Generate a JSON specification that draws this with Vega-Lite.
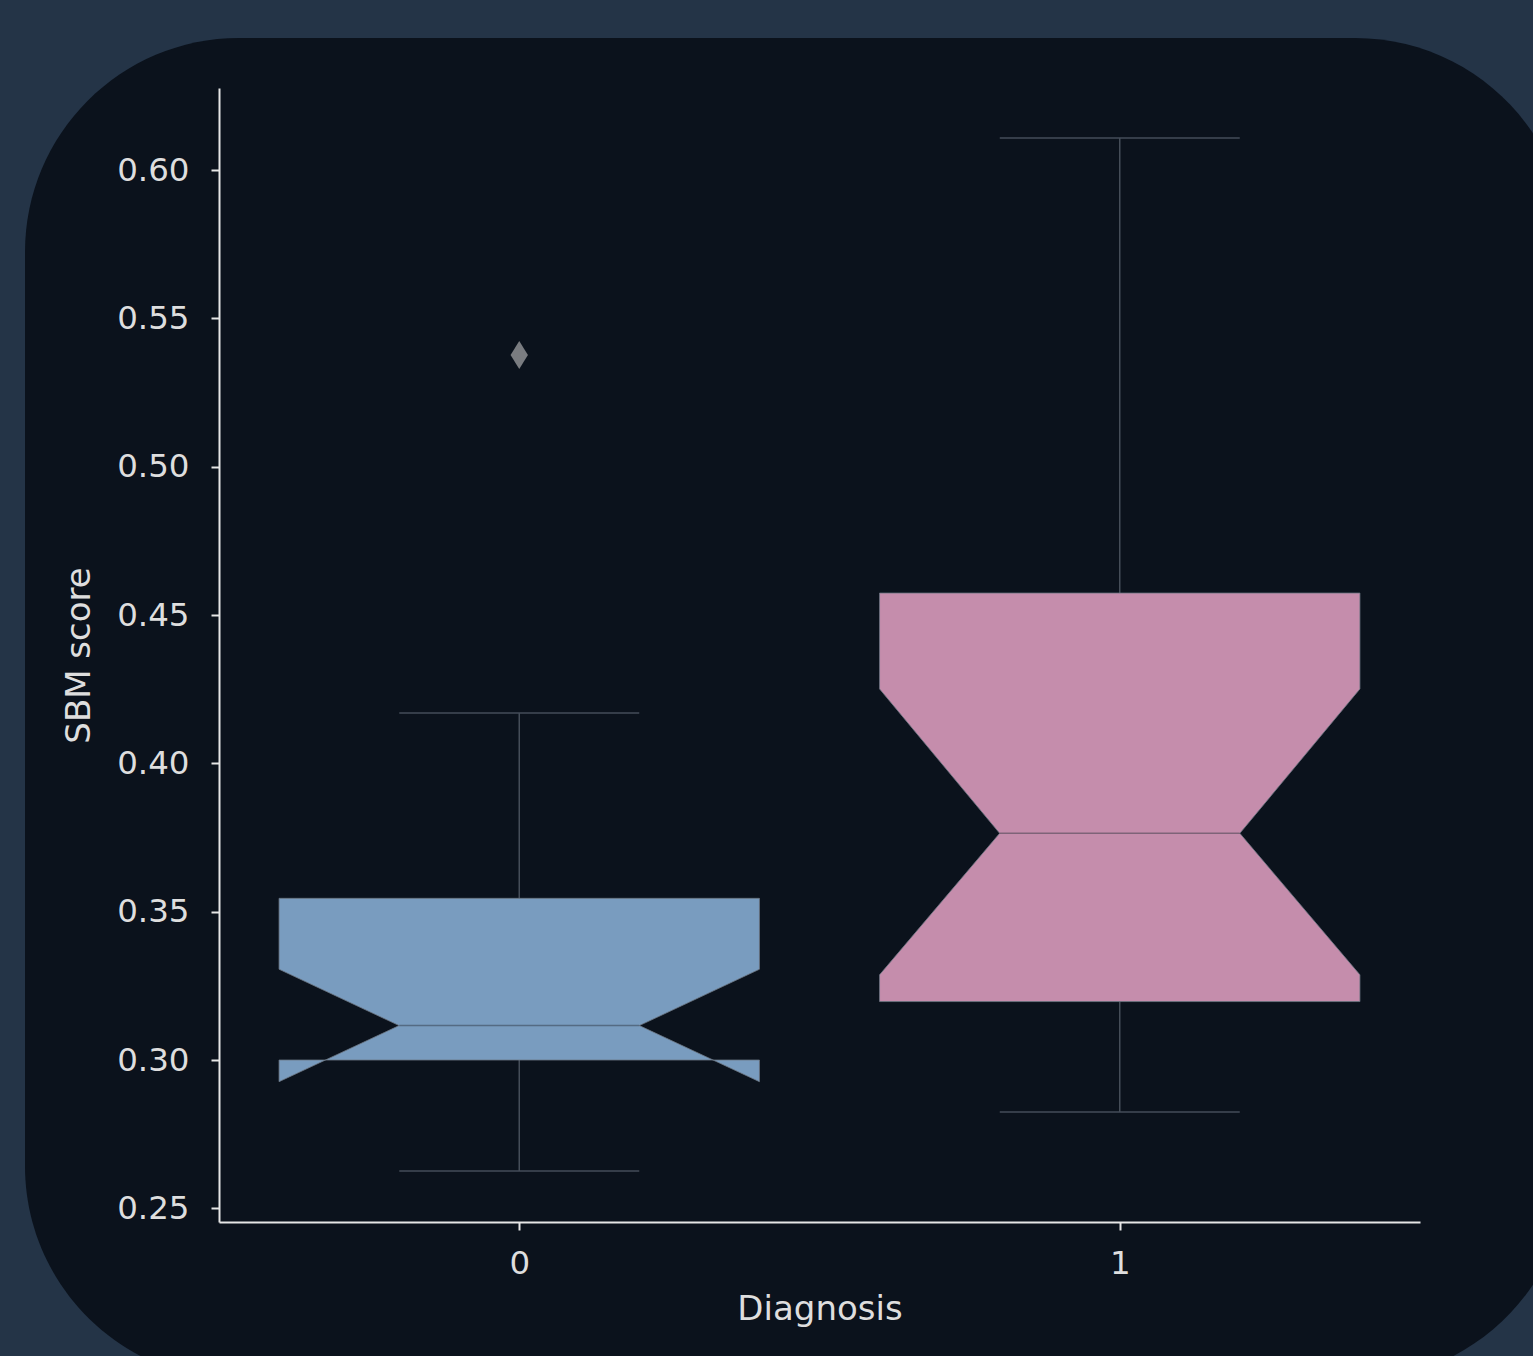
{
  "$schema": "https://vega.github.io/schema/vega-lite/v6.json",
  "width": 1544,
  "height": 1342,
  "autosize": {"type": "none"},
  "padding": {"left": 25, "top": 38, "right": -36, "bottom": -24},
  "background": "#243447",
  "config": {
    "view": {"fill": "#0b121c", "stroke": null, "cornerRadius": 214},
    "font": "DejaVu Sans",
    "axis": {
      "grid": false,
      "domainColor": "#e6e6e6",
      "domainWidth": 2,
      "tickColor": "#e6e6e6",
      "tickWidth": 2,
      "tickSize": 8,
      "labelColor": "#dedede",
      "titleColor": "#dedede",
      "labelFont": "DejaVu Sans",
      "titleFont": "DejaVu Sans",
      "labelFontSize": 32.5,
      "titleFontSize": 34,
      "titleFontWeight": "normal"
    }
  },
  "datasets": {
    "boxes": [
      {"Diagnosis": 0, "lower": 0.2626, "q1": 0.300, "median": 0.3116, "q3": 0.3545, "upper": 0.4170, "notch_lo": 0.2927, "notch_hi": 0.3306},
      {"Diagnosis": 1, "lower": 0.2825, "q1": 0.3197, "median": 0.3764, "q3": 0.4574, "upper": 0.6108, "notch_lo": 0.3287, "notch_hi": 0.4251}
    ],
    "outliers": [
      {"Diagnosis": 0, "score": 0.5376}
    ]
  },
  "layer": [
    {
      "data": {"name": "boxes"},
      "transform": [
        {"fold": ["lower", "upper"], "as": ["stat", "whisker_end"]},
        {"calculate": "datum.stat === 'lower' ? datum.q1 : datum.q3", "as": "box_edge"}
      ],
      "mark": {"type": "rule", "stroke": "#454d58", "strokeWidth": 1.5},
      "encoding": {
        "x": {"field": "Diagnosis", "type": "quantitative", "scale": {"domain": [-0.5, 1.5], "range": [194, 1395], "nice": false, "zero": false},
          "axis": {"values": [0, 1], "format": "d", "title": "Diagnosis", "offset": -158, "labelPadding": 17, "titlePadding": 13, "labelFlush": false}},
        "y": {"field": "whisker_end", "type": "quantitative", "scale": {"domain": [0.2454, 0.62764], "range": [1184, 50], "nice": false, "zero": false},
          "axis": {"values": [0.25, 0.3, 0.35, 0.4, 0.45, 0.5, 0.55, 0.6], "format": ".2f", "title": "SBM score", "offset": -194, "labelPadding": 22, "titlePadding": 20, "labelFlush": false}},
        "y2": {"field": "box_edge"}
      }
    },
    {
      "data": {"name": "boxes"},
      "transform": [
        {"fold": ["lower", "upper"], "as": ["stat", "whisker_end"]}
      ],
      "mark": {"type": "tick", "orient": "horizontal", "size": 240, "thickness": 1.5, "color": "#454d58", "opacity": 1},
      "encoding": {
        "x": {"field": "Diagnosis", "type": "quantitative", "scale": {"domain": [-0.5, 1.5], "range": [194, 1395], "nice": false, "zero": false}},
        "y": {"field": "whisker_end", "type": "quantitative", "scale": {"domain": [0.2454, 0.62764], "range": [1184, 50], "nice": false, "zero": false}}
      }
    },
    {
      "data": {"name": "boxes"},
      "transform": [
        {"calculate": "[{k:1,dx:-0.4,v:datum.q1},{k:2,dx:0.4,v:datum.q1},{k:3,dx:0.4,v:datum.notch_lo},{k:4,dx:0.2,v:datum.median},{k:5,dx:0.4,v:datum.notch_hi},{k:6,dx:0.4,v:datum.q3},{k:7,dx:-0.4,v:datum.q3},{k:8,dx:-0.4,v:datum.notch_hi},{k:9,dx:-0.2,v:datum.median},{k:10,dx:-0.4,v:datum.notch_lo},{k:11,dx:-0.4,v:datum.q1}]", "as": "pts"},
        {"flatten": ["pts"]},
        {"calculate": "datum.Diagnosis + datum.pts.dx", "as": "vx"},
        {"calculate": "datum.pts.v", "as": "vy"},
        {"calculate": "datum.pts.k", "as": "k"}
      ],
      "mark": {"type": "line", "interpolate": "linear", "stroke": "#6c7682", "strokeWidth": 1, "strokeOpacity": 0.8},
      "encoding": {
        "x": {"field": "vx", "type": "quantitative", "scale": {"domain": [-0.5, 1.5], "range": [194, 1395], "nice": false, "zero": false}},
        "y": {"field": "vy", "type": "quantitative", "scale": {"domain": [0.2454, 0.62764], "range": [1184, 50], "nice": false, "zero": false}},
        "order": {"field": "k", "type": "quantitative"},
        "detail": {"field": "Diagnosis", "type": "nominal"},
        "fill": {"field": "Diagnosis", "type": "nominal", "scale": {"domain": [0, 1], "range": ["#799cbf", "#c58dac"]}, "legend": null}
      }
    },
    {
      "data": {"name": "boxes"},
      "mark": {"type": "tick", "orient": "horizontal", "size": 240, "thickness": 1.5, "color": "#28303a", "opacity": 0.45},
      "encoding": {
        "x": {"field": "Diagnosis", "type": "quantitative", "scale": {"domain": [-0.5, 1.5], "range": [194, 1395], "nice": false, "zero": false}},
        "y": {"field": "median", "type": "quantitative", "scale": {"domain": [0.2454, 0.62764], "range": [1184, 50], "nice": false, "zero": false}}
      }
    },
    {
      "data": {"name": "outliers"},
      "mark": {"type": "point", "shape": "M0,-1L0.62,0L0,1L-0.62,0Z", "filled": true, "size": 784, "color": "#7a7c80", "opacity": 1},
      "encoding": {
        "x": {"field": "Diagnosis", "type": "quantitative", "scale": {"domain": [-0.5, 1.5], "range": [194, 1395], "nice": false, "zero": false}},
        "y": {"field": "score", "type": "quantitative", "scale": {"domain": [0.2454, 0.62764], "range": [1184, 50], "nice": false, "zero": false}}
      }
    }
  ]
}
